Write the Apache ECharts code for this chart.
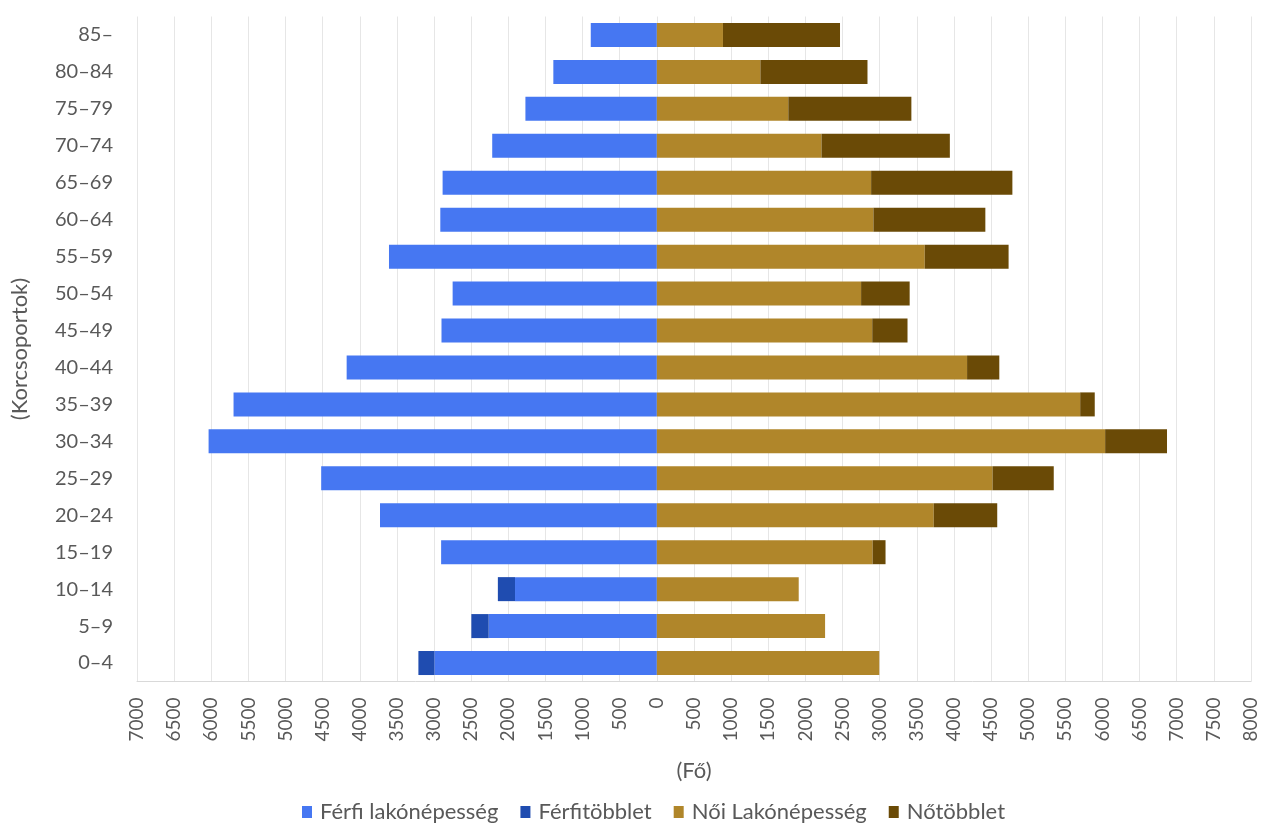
<!DOCTYPE html>
<html>
<head>
<meta charset="utf-8">
<script src="https://cdn.jsdelivr.net/npm/echarts@6/dist/echarts.min.js"></script>
<style>
html,body{margin:0;padding:0;background:#fff;}
#chart{width:1263px;height:825px;}
</style>
</head>
<body>
<div id="chart"></div>
<script>
const categories = ['0–4','5–9','10–14','15–19','20–24','25–29','30–34','35–39','40–44','45–49','50–54','55–59','60–64','65–69','70–74','75–79','80–84','85–'];
const maleBase    = [2995,2265,1910,2905,3728,4520,6036,5700,4177,2900,2750,3607,2916,2885,2217,1770,1394,890];
const maleSurplus = [216,233,231,0,0,0,0,0,0,0,0,0,0,0,0,0,0,0];
const femaleBase  = [2995,2265,1910,2905,3728,4520,6036,5700,4177,2900,2750,3607,2916,2885,2217,1770,1394,890];
const femaleSurplus = [0,0,0,174,855,824,833,196,434,475,654,1129,1507,1902,1728,1657,1442,1576];
const seriesNames = ['Férfi lakónépesség','Férfitöbblet','Női Lakónépesség','Nőtöbblet'];
const colors = ['#4677F2','#1F4CB0','#B0862A','#6A4A06'];

const font = 'Lato, "Open Sans", sans-serif';
const txt = '#595959';
const neg = a => a.map(v => -v);

const chart = echarts.init(document.getElementById('chart'));
chart.setOption({
  animation: false,
  color: colors,
  textStyle: {fontFamily: font},
  grid: {left: 137, right: 12, top: 16.5, bottom: 143.5, containLabel: false},
  xAxis: {
    type: 'value', min: -7000, max: 8000, interval: 500,
    name: '(Fő)', nameLocation: 'middle', nameGap: 78,
    nameTextStyle: {color: txt, fontSize: 22, fontFamily: font},
    axisLine: {show: true, lineStyle: {color: '#D9D9D9'}},
    axisTick: {show: false},
    axisLabel: {rotate: 90, margin: 16, color: txt, fontSize: 19, fontFamily: font,
      formatter: v => String(Math.abs(v))},
    splitLine: {show: true, lineStyle: {color: '#E6E6E6', width: 1}}
  },
  yAxis: {
    type: 'category', data: categories,
    name: '(Korcsoportok)', nameLocation: 'middle', nameGap: 106, nameRotate: 90,
    nameTextStyle: {color: txt, fontSize: 22, fontFamily: font},
    axisLine: {show: false}, axisTick: {show: false},
    axisLabel: {margin: 24, color: txt, fontSize: 20, fontFamily: font}
  },
  legend: {
    top: 801, left: 302, icon: 'rect', itemWidth: 10, itemHeight: 12, itemGap: 22,
    padding: 0,
    textStyle: {color: txt, fontSize: 22, fontFamily: font, padding: [0, 0, 0, 3]},
    data: seriesNames
  },
  series: [
    {name: seriesNames[0], type: 'bar', stack: 'all', data: neg(maleBase), barCategoryGap: '35%'},
    {name: seriesNames[1], type: 'bar', stack: 'all', data: neg(maleSurplus)},
    {name: seriesNames[2], type: 'bar', stack: 'all', data: femaleBase},
    {name: seriesNames[3], type: 'bar', stack: 'all', data: femaleSurplus}
  ]
});
</script>
</body>
</html>
